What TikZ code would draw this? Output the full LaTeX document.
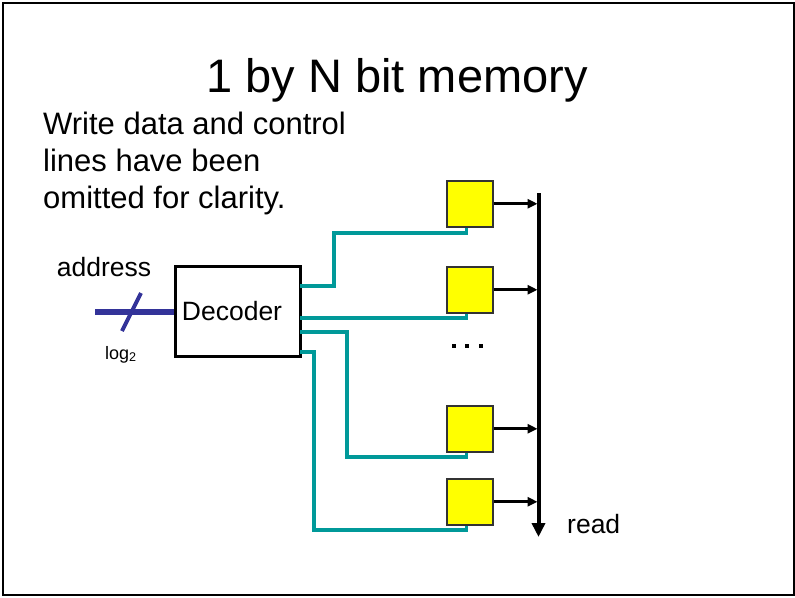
\documentclass[tikz,border=0pt]{standalone}
\usepackage{fontspec}
\setmainfont{Liberation Sans}
\usetikzlibrary{arrows.meta}
\definecolor{wirec}{HTML}{009999}
\definecolor{addrc}{HTML}{333399}
\definecolor{cellc}{HTML}{FFFF00}
\begin{document}
\begin{tikzpicture}[x=1pt,y=-1pt,
  cellbox/.style={draw=black!80, fill=cellc, line width=1.5pt, minimum size=46pt, inner sep=0pt},
  wire/.style={draw=wirec, line width=3.3pt},
  outarrow/.style={draw=black, line width=3pt, -{Triangle[length=10pt,width=9pt]}},
  lbl/.style={inner sep=0pt, anchor=base west, font=\fontsize{26.5}{30}\selectfont}
]
\useasboundingbox (0,0) rectangle (795,597);
\draw[line width=2.5pt] (3,3) rectangle (794,595);

% title and note
\node (title) [inner sep=0pt, anchor=base, font=\fontsize{47}{56}\selectfont] at (397,92) {1 by N bit memory};
\node (note) [inner sep=0pt, anchor=north west, align=left, font=\fontsize{31}{36.7}\selectfont] at (43,112)
  {Write data and control\\lines have been\\omitted for clarity.};

% decoder
\node (dec) [draw, line width=3pt, minimum width=125pt, minimum height=90pt, inner sep=0pt] at (237.5,311) {};
\node (declbl) [inner sep=0pt, anchor=base, font=\fontsize{26.5}{30}\selectfont] at (232,320) {Decoder};

% address bus
\coordinate (ain) at (95,312);
\draw[draw=addrc, line width=6pt] (ain) -- (ain -| dec.west);
\coordinate (s1) at (141,293);
\coordinate (s2) at (122,331);
\draw[draw=addrc, line width=4pt] (s1) -- (s2);
\node (addr) [lbl, anchor=base] at (104,276) {address};
\node (log) [inner sep=0pt, anchor=base west, font=\fontsize{18}{20}\selectfont] at (105,359) {log\textsubscript{2}};

% memory cells
\node (c1) [cellbox, anchor=north west] at (446,180) {};
\node (c2) [cellbox, anchor=north west] at (446,266) {};
\node (c3) [cellbox, anchor=north west] at (446,405) {};
\node (c4) [cellbox, anchor=north west] at (446,478) {};

% read bus
\coordinate (bt) at (538.5,193);
\coordinate (bb) at (538.5,537);
\draw[line width=4pt, -{Triangle[length=14pt,width=13pt]}] (bt) -- (bb);
\node (read) [lbl] at (567,533) {read};

\foreach \c in {c1,c2,c3,c4} {
  \draw[outarrow] (\c.east) -- ([xshift=-1pt]\c.east -| bt);
}

% word lines
\coordinate (o1) at (300,286);
\coordinate (o2) at (300,318);
\coordinate (o3) at (300,332);
\coordinate (o4) at (300,352);
\draw[wire] (o1) -| (334,233) -| ([xshift=-3pt]c1.south);
\draw[wire] (o2) -| ([xshift=-3pt]c2.south);
\draw[wire] (o3) -| (347,457) -| ([xshift=-3pt]c3.south);
\draw[wire] (o4) -| (314,530) -| ([xshift=-3pt]c4.south);

% ellipsis
\foreach \x in {453.5,467,480.5} {
  \fill (\x-2,343.5) rectangle (\x+2,347.5);
}
\end{tikzpicture}
\end{document}
